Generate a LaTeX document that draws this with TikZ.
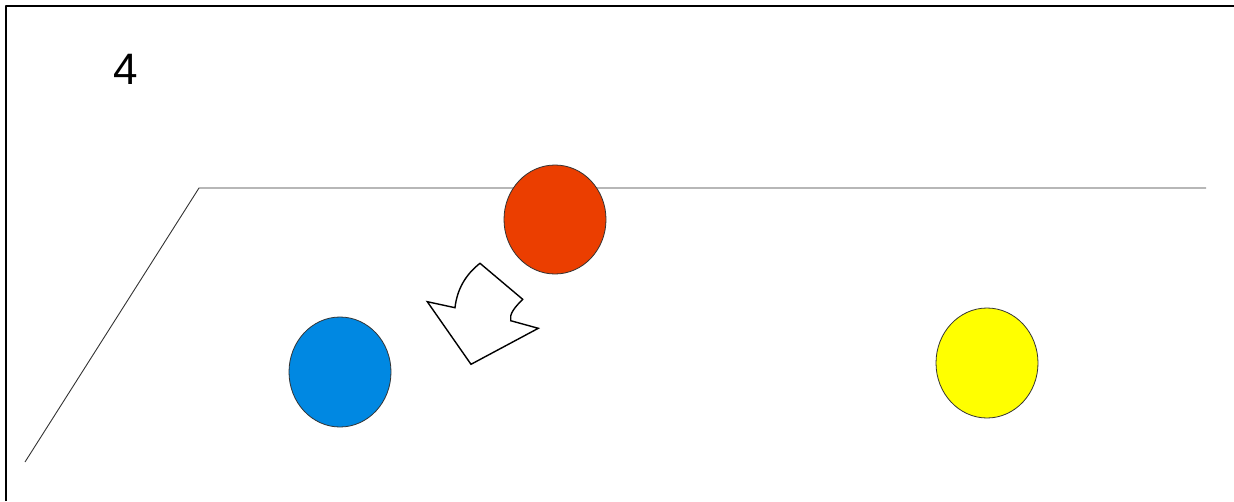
\documentclass[tikz,border=0pt]{standalone}
\usepackage{fontspec}
\setmainfont{Liberation Sans}
\definecolor{ballred}{RGB}{235,62,0}
\definecolor{ballblue}{RGB}{0,136,226}
\definecolor{ballyellow}{RGB}{255,255,0}
\tikzset{
  ball/.style={draw=black!80, line width=0.8pt},
}
\begin{document}
\begin{tikzpicture}[x=1pt, y=-1pt, line join=bevel]
  \useasboundingbox (0,0) rectangle (1234,501);
  % frame edges
  \draw[line width=2.5pt] (6,501) -- (6,6) -- (1234,6);
  \node (label) at (126,69) {\fontsize{44}{44}\selectfont 4};
  % floor
  \draw[black!80, line width=0.9pt] (25,462) -- (199,188) -- (1206,188);
  \path[ball, fill=ballred] (555,219.5) ellipse [x radius=51, y radius=54.5];
  \path[ball, fill=ballblue] (340,372) ellipse [x radius=51, y radius=55];
  \path[ball, fill=ballyellow] (987,363) ellipse [x radius=51, y radius=55];
  % curved arrow
  \draw[line width=1.4pt, line join=miter, fill=white]
    (480,263.3) -- (522.7,299.3)
    .. controls (515,307) and (509,314) .. (510.7,320.7)
    -- (538.3,328.3) -- (471,364.3) -- (427.3,301.7) -- (455,307.7)
    .. controls (457,290) and (465,275) .. (480,263.3) -- cycle;
\end{tikzpicture}
\end{document}
